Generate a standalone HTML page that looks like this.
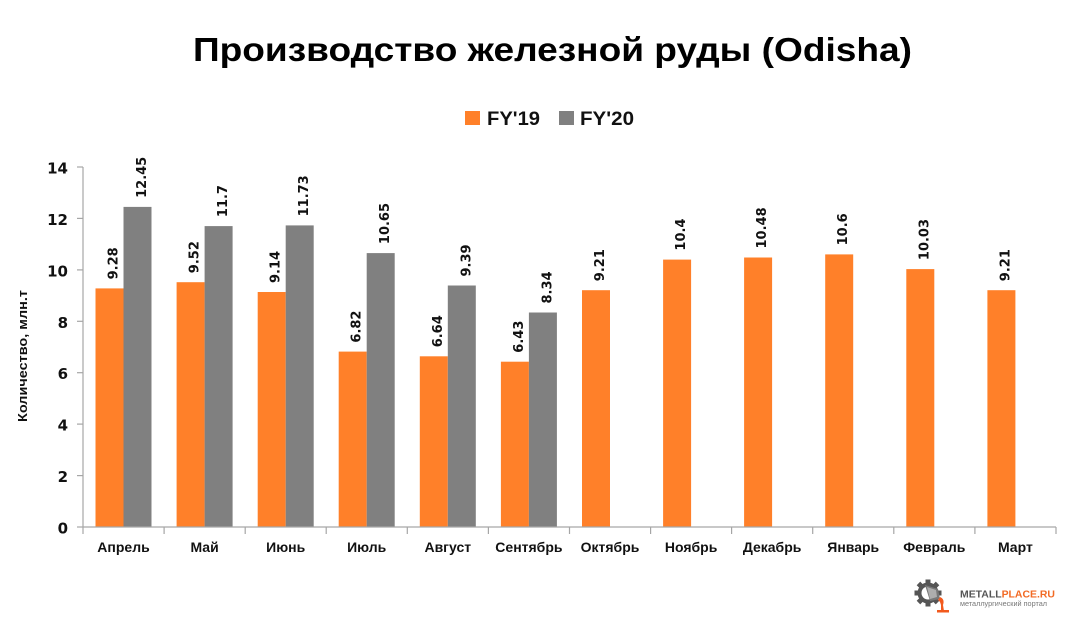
<!DOCTYPE html>
<html>
<head>
<meta charset="utf-8">
<style>
html,body{margin:0;padding:0;background:#fff;}
svg{display:block;}
.tl{font-family:"DejaVu Sans",sans-serif;font-weight:bold;font-size:15px;fill:#111;}
.xl{font-family:"Liberation Sans",sans-serif;font-weight:bold;font-size:14px;fill:#111;}
.dl{font-family:"DejaVu Sans",sans-serif;font-weight:bold;font-size:13px;fill:#111;}
</style>
</head>
<body>
<svg width="1088" height="642" viewBox="0 0 1088 642" xmlns="http://www.w3.org/2000/svg">
<rect width="1088" height="642" fill="#fff"/>
<!-- Title -->
<text x="193" y="61" textLength="719" lengthAdjust="spacingAndGlyphs" font-family="Liberation Sans, sans-serif" font-weight="bold" font-size="33" fill="#000">Производство железной руды (Odisha)</text>
<!-- Legend -->
<rect x="465" y="111" width="15" height="14" fill="#FF8029"/>
<text x="487" y="125" textLength="53" lengthAdjust="spacingAndGlyphs" font-family="Liberation Sans, sans-serif" font-weight="bold" font-size="19" fill="#111">FY'19</text>
<rect x="559" y="111" width="15" height="14" fill="#808080"/>
<text x="580" y="125" textLength="54" lengthAdjust="spacingAndGlyphs" font-family="Liberation Sans, sans-serif" font-weight="bold" font-size="19" fill="#111">FY'20</text>

<!-- Y axis title -->
<text transform="translate(27,356) rotate(-90)" text-anchor="middle" textLength="132" lengthAdjust="spacingAndGlyphs" font-family="Liberation Sans, sans-serif" font-weight="bold" font-size="13" fill="#111">Количество, млн.т</text>

<!-- Y axis -->
<g stroke="#A6A6A6" stroke-width="1.2">
<line x1="83" y1="167" x2="83" y2="527"/>
<line x1="77" y1="527" x2="83" y2="527"/>
<line x1="77" y1="475.6" x2="83" y2="475.6"/>
<line x1="77" y1="424.1" x2="83" y2="424.1"/>
<line x1="77" y1="372.7" x2="83" y2="372.7"/>
<line x1="77" y1="321.3" x2="83" y2="321.3"/>
<line x1="77" y1="269.9" x2="83" y2="269.9"/>
<line x1="77" y1="218.4" x2="83" y2="218.4"/>
<line x1="77" y1="167" x2="83" y2="167"/>
</g>
<g class="tl" text-anchor="end">
<text x="68" y="533.5">0</text>
<text x="68" y="482">2</text>
<text x="68" y="430.6">4</text>
<text x="68" y="379.2">6</text>
<text x="68" y="327.8">8</text>
<text x="68" y="276.4">10</text>
<text x="68" y="224.9">12</text>
<text x="68" y="173.5">14</text>
</g>

<!-- Bars -->
<g fill="#FF8029">
<rect x="95.5" y="288.4" width="28" height="238.6"/>
<rect x="176.6" y="282.2" width="28" height="244.8"/>
<rect x="257.7" y="292" width="28" height="235"/>
<rect x="338.7" y="351.6" width="28" height="175.4"/>
<rect x="419.8" y="356.3" width="28" height="170.7"/>
<rect x="500.9" y="361.7" width="28" height="165.3"/>
<rect x="582" y="290.2" width="28" height="236.8"/>
<rect x="663.1" y="259.6" width="28" height="267.4"/>
<rect x="744.1" y="257.5" width="28" height="269.5"/>
<rect x="825.2" y="254.4" width="28" height="272.6"/>
<rect x="906.3" y="269.1" width="28" height="257.9"/>
<rect x="987.4" y="290.2" width="28" height="236.8"/>
</g>
<g fill="#808080">
<rect x="123.5" y="206.9" width="28" height="320.1"/>
<rect x="204.6" y="226.1" width="28" height="300.9"/>
<rect x="285.7" y="225.4" width="28" height="301.6"/>
<rect x="366.7" y="253.1" width="28" height="273.9"/>
<rect x="447.8" y="285.5" width="28" height="241.5"/>
<rect x="528.9" y="312.5" width="28" height="214.5"/>
</g>

<!-- X axis -->
<g stroke="#A6A6A6" stroke-width="1.2">
<line x1="83" y1="527" x2="1056" y2="527"/>
<line x1="83" y1="527" x2="83" y2="534"/>
<line x1="164.1" y1="527" x2="164.1" y2="534"/>
<line x1="245.2" y1="527" x2="245.2" y2="534"/>
<line x1="326.2" y1="527" x2="326.2" y2="534"/>
<line x1="407.3" y1="527" x2="407.3" y2="534"/>
<line x1="488.4" y1="527" x2="488.4" y2="534"/>
<line x1="569.5" y1="527" x2="569.5" y2="534"/>
<line x1="650.6" y1="527" x2="650.6" y2="534"/>
<line x1="731.6" y1="527" x2="731.6" y2="534"/>
<line x1="812.7" y1="527" x2="812.7" y2="534"/>
<line x1="893.8" y1="527" x2="893.8" y2="534"/>
<line x1="974.9" y1="527" x2="974.9" y2="534"/>
<line x1="1056" y1="527" x2="1056" y2="534"/>
</g>
<g class="xl" text-anchor="middle">
<text x="123.5" y="552">Апрель</text>
<text x="204.6" y="552">Май</text>
<text x="285.7" y="552">Июнь</text>
<text x="366.7" y="552">Июль</text>
<text x="447.8" y="552">Август</text>
<text x="528.9" y="552">Сентябрь</text>
<text x="610" y="552">Октябрь</text>
<text x="691.1" y="552">Ноябрь</text>
<text x="772.1" y="552">Декабрь</text>
<text x="853.2" y="552">Январь</text>
<text x="934.3" y="552">Февраль</text>
<text x="1015.4" y="552">Март</text>
</g>

<!-- Data labels FY19 -->
<g class="dl">
<text transform="translate(117.5,279.4) rotate(-90)">9.28</text>
<text transform="translate(198.6,273.2) rotate(-90)">9.52</text>
<text transform="translate(279.7,283) rotate(-90)">9.14</text>
<text transform="translate(360.7,342.6) rotate(-90)">6.82</text>
<text transform="translate(441.8,347.3) rotate(-90)">6.64</text>
<text transform="translate(522.9,352.7) rotate(-90)">6.43</text>
<text transform="translate(604,281.2) rotate(-90)">9.21</text>
<text transform="translate(685.1,250.6) rotate(-90)">10.4</text>
<text transform="translate(766.1,248.5) rotate(-90)">10.48</text>
<text transform="translate(847.2,245.4) rotate(-90)">10.6</text>
<text transform="translate(928.3,260.1) rotate(-90)">10.03</text>
<text transform="translate(1009.4,281.2) rotate(-90)">9.21</text>
</g>
<!-- Data labels FY20 -->
<g class="dl">
<text transform="translate(146,197.9) rotate(-90)">12.45</text>
<text transform="translate(227.1,217.1) rotate(-90)">11.7</text>
<text transform="translate(308.2,216.4) rotate(-90)">11.73</text>
<text transform="translate(389.2,244.1) rotate(-90)">10.65</text>
<text transform="translate(470.3,276.5) rotate(-90)">9.39</text>
<text transform="translate(551.4,303.5) rotate(-90)">8.34</text>
</g>

<!-- Logo -->
<g transform="translate(928,593)">
  <g fill="#555">
    <circle r="10.5"/>
    <rect x="-2.5" y="-13.5" width="5" height="5"/>
    <rect x="-2.5" y="8.5" width="5" height="5"/>
    <rect x="-13.5" y="-2.5" width="5" height="5"/>
    <rect x="8.5" y="-2.5" width="5" height="5"/>
    <rect x="-2.5" y="-13.5" width="5" height="5" transform="rotate(45)"/>
    <rect x="-2.5" y="8.5" width="5" height="5" transform="rotate(45)"/>
    <rect x="-13.5" y="-2.5" width="5" height="5" transform="rotate(45)"/>
    <rect x="8.5" y="-2.5" width="5" height="5" transform="rotate(45)"/>
  </g>
  <circle r="6.5" fill="#fff"/>
  <path d="M-3,-8 L10,-4 L12,6 L2,8 Z" fill="#777"/>
  <path d="M-1,-6 L8,-3 L9,4 L2,6 Z" fill="#fff" opacity="0.4"/>
  <path d="M12,4 Q17,6 15,12 L16,18 L13,18 L13,12 Q12,8 10,7 Z" fill="#F25A1E"/>
  <rect x="9" y="17" width="12" height="2.5" fill="#F25A1E"/>
</g>
<text x="960" y="597.5" font-family="Liberation Sans, sans-serif" font-weight="bold" font-size="10" textLength="95" lengthAdjust="spacingAndGlyphs"><tspan fill="#555">METALL</tspan><tspan fill="#F26A24">PLACE.RU</tspan></text>
<text x="960" y="606" font-family="Liberation Sans, sans-serif" font-size="7.5" fill="#777" textLength="87" lengthAdjust="spacingAndGlyphs">металлургический портал</text>
</svg>
</body>
</html>
